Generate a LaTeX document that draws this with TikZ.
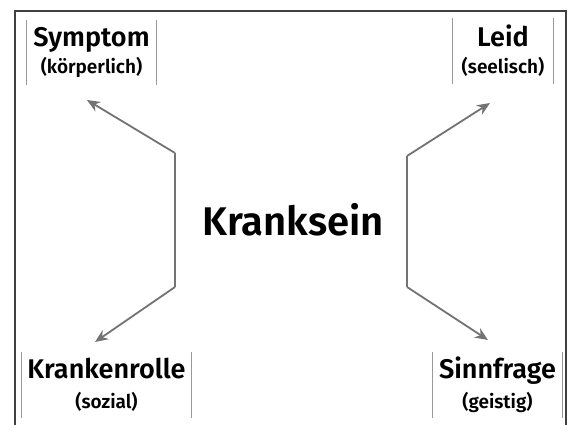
\documentclass[tikz,border=0pt]{standalone}
\usepackage{fontspec}
\setmainfont{Fira Sans}[BoldFont={Fira Sans SemiBold}]
\usetikzlibrary{arrows.meta}

\tikzset{
  frame/.style={draw=black!75, line width=1.6pt},
  label/.style={inner sep=0pt, align=center, font=\bfseries\fontsize{27}{30}\selectfont},
  bar/.style={draw=black!40, line width=0.9pt},
  arm/.style={draw=black!55, line width=1.8pt},
  tip/.style={-{Stealth[length=13pt,width=11pt]}},
}
\newcommand{\subline}[1]{{\bfseries\fontsize{19}{22}\selectfont #1}}

\begin{document}
\begin{tikzpicture}[x=1pt,y=-1pt]
        \useasboundingbox (0,0) rectangle (571,425);
        \fill[white] (0,0) rectangle (571,425);
        \draw[frame] (15,425) |- (566,11) -- (566,425);

        % die vier Felder
        \node[label, minimum width=129pt, minimum height=65pt] (symptom) at (91.5,52.5)
            {Symptom\\[-3pt]\subline{(körperlich)}};
        \node[label, minimum width=100pt, minimum height=66pt] (leid) at (503,51)
            {Leid\\[-3pt]\subline{(seelisch)}};
        \node[label, minimum width=169pt, minimum height=66pt] (rolle) at (106.5,385)
            {Krankenrolle\\[0pt]\subline{(sozial)}};
        \node[label, minimum width=129pt, minimum height=66pt] (sinn) at (497.5,385)
            {Sinnfrage\\[0pt]\subline{(geistig)}};
        \node[font=\bfseries\fontsize{40}{44}\selectfont] (krank) at (293,220) {Kranksein};

        \foreach \n in {symptom,leid,rolle,sinn}
            \draw[bar] (\n.north west) -- (\n.south west) (\n.north east) -- (\n.south east);

        % Knickpunkte und Pfeilspitzen
        \coordinate (lo) at (175,153);
        \coordinate (lu) at (175,287);
        \coordinate (ro) at (407,156);
        \coordinate (ru) at (407,287);
        \coordinate (symptomtip) at (87,100);
        \coordinate (rolletip) at (95,342);
        \coordinate (leidtip) at (490,103);
        \coordinate (sinntip) at (488,340);

        \draw[arm, tip] (lo) -- (symptomtip);
        \draw[arm, tip] (lu) -- (rolletip);
        \draw[arm] (lo) -- (lu);
        \draw[arm, tip] (ro) -- (leidtip);
        \draw[arm, tip] (ru) -- (sinntip);
        \draw[arm] (ro) -- (ru);
    \end{tikzpicture}
\end{document}
